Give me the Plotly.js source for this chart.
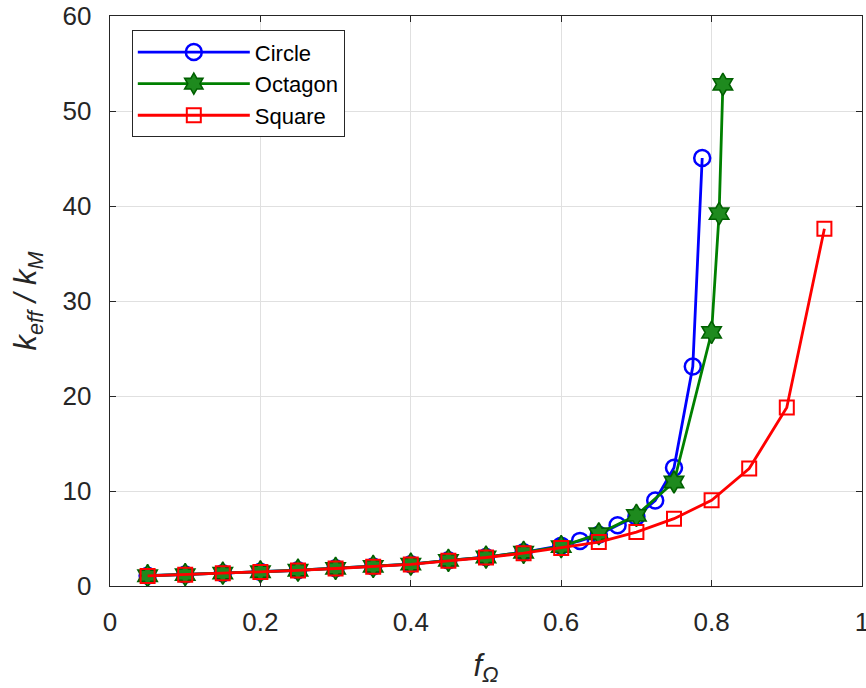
<!DOCTYPE html>
<html>
<head>
<meta charset="utf-8">
<script src="https://cdn.plot.ly/plotly-3.0.1.min.js"></script>
<style>
  html, body { margin: 0; padding: 0; background: #ffffff; }
  #chart { width: 866px; height: 688px; }
</style>
</head>
<body>
<div id="chart"></div>
<script>
// ---- Data ----
var seriesNames = ["Circle", "Octagon", "Square"];

var circleX = [0.05, 0.10, 0.15, 0.20, 0.25, 0.30, 0.35, 0.40, 0.45, 0.50, 0.55, 0.60,
               0.625, 0.65, 0.675, 0.70, 0.725, 0.75, 0.775, 0.7875];
var circleY = [1.08, 1.20, 1.35, 1.50, 1.66, 1.86, 2.06, 2.30, 2.70, 3.05, 3.55, 4.25,
               4.75, 5.40, 6.40, 7.30, 9.00, 12.45, 23.1, 45.05];

var octagonX = [0.05, 0.10, 0.15, 0.20, 0.25, 0.30, 0.35, 0.40, 0.45, 0.50, 0.55, 0.60,
                0.65, 0.70, 0.75, 0.80, 0.81, 0.815];
var octagonY = [1.08, 1.20, 1.35, 1.50, 1.66, 1.86, 2.06, 2.30, 2.70, 3.05, 3.55, 4.15,
                5.50, 7.44, 10.95, 26.7, 39.2, 52.8];

var squareX = [0.05, 0.10, 0.15, 0.20, 0.25, 0.30, 0.35, 0.40, 0.45, 0.50, 0.55, 0.60,
               0.65, 0.70, 0.75, 0.80, 0.85, 0.90, 0.95];
var squareY = [1.06, 1.19, 1.34, 1.48, 1.64, 1.84, 2.03, 2.27, 2.65, 3.00, 3.45, 4.00,
               4.63, 5.68, 7.09, 9.02, 12.36, 18.8, 37.6];

var xTickVals = [0, 0.2, 0.4, 0.6, 0.8, 1];
var xTickText = ["0", "0.2", "0.4", "0.6", "0.8", "1"];
var yTickVals = [0, 10, 20, 30, 40, 50, 60];
var yTickText = ["0", "10", "20", "30", "40", "50", "60"];

// ---- Traces ----
var traces = [
  {
    x: circleX, y: circleY, name: seriesNames[0], type: "scatter", mode: "lines+markers",
    line: { color: "#0000ff", width: 2.8 },
    marker: { symbol: "circle-open", size: 16, color: "#0000ff", line: { color: "#0000ff", width: 2.5 } }
  },
  {
    x: octagonX, y: octagonY, name: seriesNames[1], type: "scatter", mode: "lines+markers",
    line: { color: "#008000", width: 2.8 },
    marker: { symbol: "hexagram", size: 17, color: "#1e8a1e", line: { color: "#006000", width: 1.6 } }
  },
  {
    x: squareX, y: squareY, name: seriesNames[2], type: "scatter", mode: "lines+markers",
    line: { color: "#ff0000", width: 2.8 },
    marker: { symbol: "square-open", size: 14, color: "#ff0000", line: { color: "#ff0000", width: 2 } }
  }
];

var axisColor = "#262626";
var fontFam = "Liberation Sans, Arial, Helvetica, sans-serif";

var layout = {
  width: 866, height: 688,
  margin: { l: 110, r: 4, t: 16, b: 102, pad: 0 },
  paper_bgcolor: "#ffffff",
  plot_bgcolor: "#ffffff",
  font: { family: fontFam, size: 26, color: axisColor },
  showlegend: true,
  legend: {
    x: 0.029, y: 0.975, xanchor: "left", yanchor: "top",
    bgcolor: "#ffffff", bordercolor: axisColor, borderwidth: 1,
    font: { family: fontFam, size: 22, color: "#000000" },
    itemwidth: 112,
    tracegroupgap: 0
  },
  xaxis: {
    range: [0, 1],
    tickmode: "array", tickvals: xTickVals, ticktext: xTickText,
    showgrid: true, gridcolor: "#e0e0e0", gridwidth: 1,
    zeroline: false,
    showline: true, linecolor: axisColor, linewidth: 1.3, mirror: "ticks",
    ticks: "inside", ticklen: 6, tickcolor: axisColor, tickwidth: 1,
    ticklabelstandoff: 12,
    ticklabeloverflow: "allow",
    tickfont: { family: fontFam, size: 26, color: axisColor },
    title: { text: "<i>f</i><sub><i>Ω</i></sub>", font: { family: fontFam, size: 31, color: axisColor }, standoff: 18 }
  },
  yaxis: {
    range: [0, 60],
    tickmode: "array", tickvals: yTickVals, ticktext: yTickText,
    showgrid: true, gridcolor: "#e0e0e0", gridwidth: 1,
    zeroline: false,
    showline: true, linecolor: axisColor, linewidth: 1.3, mirror: "ticks",
    ticks: "inside", ticklen: 6, tickcolor: axisColor, tickwidth: 1,
    ticklabelstandoff: 12,
    ticklabeloverflow: "allow",
    tickfont: { family: fontFam, size: 26, color: axisColor },
    title: { text: "<i>k</i><sub><i>eff</i></sub><i> / k</i><sub><i>M</i></sub>", font: { family: fontFam, size: 31, color: axisColor }, standoff: 16 }
  }
};

Plotly.newPlot("chart", traces, layout, { staticPlot: true, displayModeBar: false });
</script>
</body>
</html>
